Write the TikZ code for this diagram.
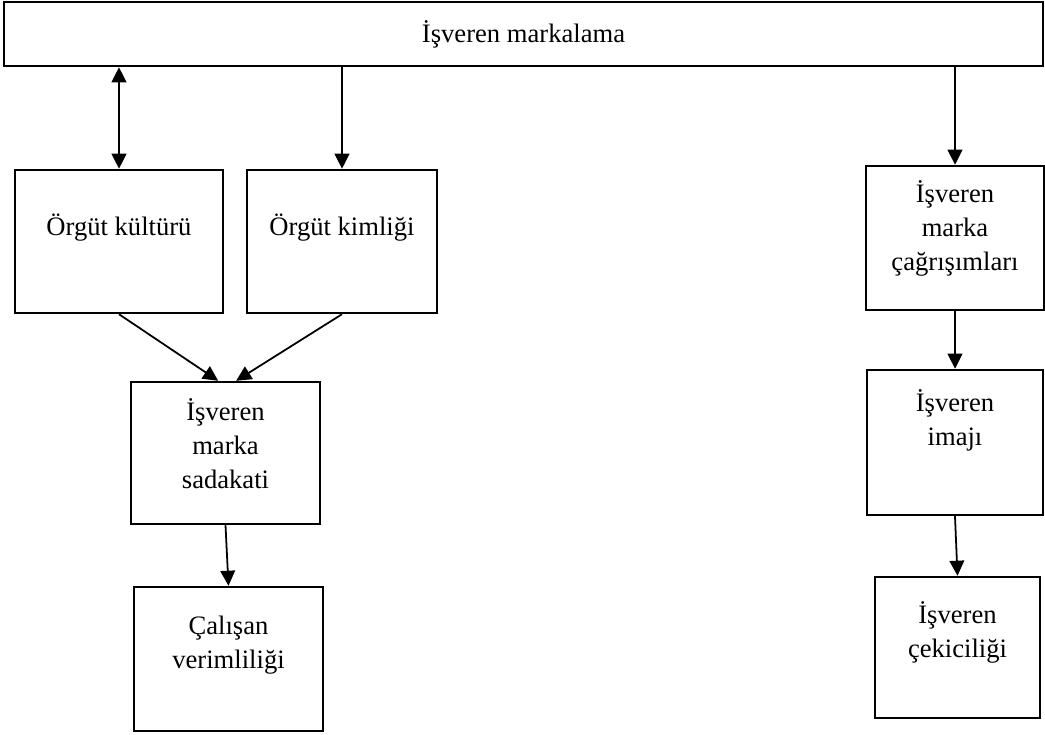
\documentclass[tikz,border=0pt]{standalone}
\usepackage{fontspec}
\setmainfont{Liberation Serif}
\usetikzlibrary{arrows.meta}

\begin{document}
\begin{tikzpicture}[x=0.451pt, y=-0.451pt,
  every node/.style={font=\fontsize{12}{15.3}\selectfont},
  box/.style 2 args={draw, line width=1.1pt, inner sep=0pt, minimum width=#1*0.451pt, minimum height=#2*0.451pt},
  txt/.style={align=center, inner sep=0pt},
  arr/.style={line width=0.8pt, -{Triangle[length=6.8pt, width=6.6pt]}},
  both/.style={line width=0.8pt, {Triangle[length=6.8pt, width=6.6pt]}-{Triangle[length=6.8pt, width=6.6pt]}}]
\useasboundingbox (0,0) rectangle (1045,735);

\node[box={1039}{64}] (top) at (523.5,34) {İşveren markalama};

\node[box={208}{143}] (kultur) at (119,241.5) {};
\node[txt] (kulturT) at (119,228) {Örgüt kültürü};
\node[box={190}{143}] (kimlik) at (342,241.5) {};
\node[txt] (kimlikT) at (342,228) {Örgüt kimliği};
\node[box={189}{142}] (sadakat) at (225.5,453) {};
\node[txt] (sadakatT) at (225.5,444) {İşveren\\marka\\sadakati};
\node[box={189}{144}] (calisan) at (228.5,659) {};
\node[txt] (calisanT) at (228.5,645) {Çalışan\\verimliliği};

\node[box={178}{144}] (cagri) at (955,238) {};
\node[txt] (cagriT) at (955,228) {İşveren\\marka\\çağrışımları};
\node[box={176}{145}] (imaj) at (955,442.5) {};
\node[txt] (imajT) at (955,420) {İşveren\\imajı};
\node[box={165}{141}] (cekici) at (957.5,647.5) {};
\node[txt] (cekiciT) at (957.5,632) {İşveren\\çekiciliği};

\draw[both] (top.south -| kultur.north) -- (kultur.north);
\draw[arr] (top.south -| kimlik.north) -- (kimlik.north);
\draw[arr] (top.south -| cagri.north) -- (cagri.north);
\draw[arr] (kultur.south) -- ([xshift=-3.3pt]sadakat.north);
\draw[arr] (kimlik.south) -- ([xshift=4.8pt]sadakat.north);
\draw[arr] (sadakat.south) -- (calisan.north);
\draw[arr] (cagri.south) -- (imaj.north);
\draw[arr] (imaj.south) -- (cekici.north);
\end{tikzpicture}
\end{document}
